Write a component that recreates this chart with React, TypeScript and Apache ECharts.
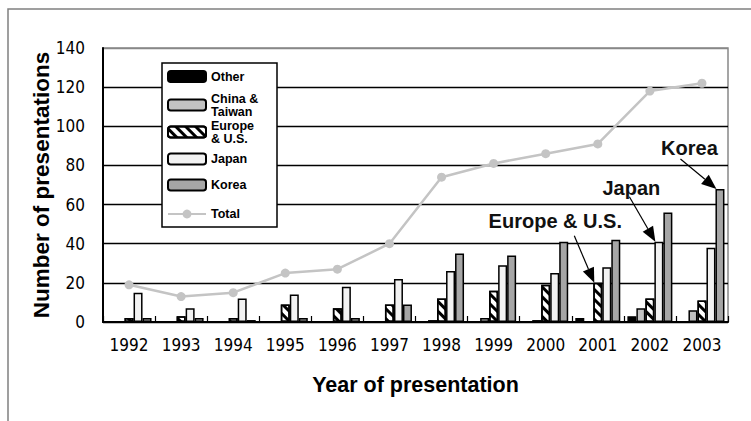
import React, { useEffect, useRef } from 'react';
import * as echarts from 'echarts';

// Presentations per year, by region of origin
const years = ['1992', '1993', '1994', '1995', '1996', '1997', '1998', '1999', '2000', '2001', '2002', '2003'];
const other = [0, 0, 0, 0, 0, 0, 0, 0, 0, 2, 3, 0];
const chinaTaiwan = [0, 0, 0, 0, 0, 0, 1, 2, 1, 0, 7, 6];
const europeUS = [2, 3, 2, 9, 7, 9, 12, 16, 19, 20, 12, 11];
const japan = [15, 7, 12, 14, 18, 22, 26, 29, 25, 28, 41, 38];
const korea = [2, 2, 1, 2, 2, 9, 35, 34, 41, 42, 56, 68];
const total = [19, 13, 15, 25, 27, 40, 74, 81, 86, 91, 118, 122];
const yTicks = [0, 20, 40, 60, 80, 100, 120, 140];

const NARROW = '"Liberation Sans Narrow", "DejaVu Sans Condensed", "Liberation Sans", sans-serif';
const SANS = '"Liberation Sans", Arial, Helvetica, sans-serif';
const BAR_W = 9;

const hatch = {
  symbol: 'rect',
  symbolSize: 1,
  color: '#000',
  dashArrayX: [1, 0],
  dashArrayY: [3, 3.5],
  rotation: Math.PI / 4,
};

const barSeries = (name: string, data: number[], color: string, extra: any = {}) => ({
  name,
  type: 'bar',
  data,
  barWidth: BAR_W,
  barGap: '0%',
  itemStyle: { color, borderColor: '#000', borderWidth: 1.5, ...extra },
  emphasis: { disabled: true },
  z: 2,
});

const legendTops: [string, number][] = [
  ['Other', 70],
  ['China & Taiwan', 92],
  ['Europe & U.S.', 119],
  ['Japan', 152.5],
  ['Korea', 178.5],
  ['Total', 207.5],
];

const legendLabel = (name: string) =>
  name === 'China & Taiwan' ? 'China &\nTaiwan' : name === 'Europe & U.S.' ? 'Europe\n& U.S.' : name;

// annotation callouts: [label, series index, category index, text offset, arrow start offset]
const callouts: [string, number, number, [number, number], [number, number]][] = [
  ['Europe & U.S.', 2, 9, [-39, -62], [-20, -47]],
  ['Japan', 3, 10, [-24, -54], [-26, -45]],
  ['Korea', 4, 11, [-27, -41], [-36, -30]],
];

export default function App() {
  const ref = useRef<HTMLDivElement>(null);

  useEffect(() => {
    document.body.style.margin = '0';
    const chart = echarts.init(ref.current!, null, { renderer: 'svg' });

    const option: any = {
      animation: false,
      backgroundColor: '#fff',
      grid: {
        left: 103,
        top: 48,
        right: 23,
        bottom: 99,
        show: true,
        borderColor: '#888',
        borderWidth: 1.5,
      },
      legend: legendTops.map(([name, top]) => ({
        data: [name],
        left: 167,
        top,
        orient: 'vertical',
        padding: 0,
        itemWidth: 38,
        itemHeight: 11,
        selectedMode: false,
        formatter: legendLabel,
        textStyle: { fontFamily: SANS, fontWeight: 'bold', fontSize: 12.5, lineHeight: 13, color: '#000' },
        z: 6,
      })),
      xAxis: {
        type: 'category',
        data: years,
        boundaryGap: true,
        axisLine: { lineStyle: { color: '#000', width: 2 } },
        axisTick: { show: true, inside: true, length: 6, lineStyle: { color: '#000', width: 1.2 } },
        axisLabel: { fontFamily: NARROW, fontSize: 17, color: '#000', margin: 14 },
        name: 'Year of presentation',
        nameLocation: 'middle',
        nameGap: 52,
        nameMoveOverlap: false,
        nameTextStyle: { fontFamily: SANS, fontWeight: 'bold', fontSize: 21.5, color: '#000' },
      },
      yAxis: {
        type: 'value',
        min: 0,
        max: 140,
        interval: 20,
        axisLine: { show: true, lineStyle: { color: '#000', width: 2 } },
        axisTick: { show: false },
        axisLabel: {
          fontFamily: NARROW,
          fontSize: 17,
          color: '#000',
          margin: 18,
          formatter: (v: number) => (yTicks.includes(v) ? String(v) : ''),
        },
        splitLine: {
          show: true,
          lineStyle: { color: ['#000', '#000', '#000', '#000', '#000', '#000', '#000', '#888'], width: 1.3 },
        },
        name: 'Number of presentations',
        nameLocation: 'middle',
        nameRotate: 90,
        nameGap: 50,
        nameMoveOverlap: false,
        nameTextStyle: { fontFamily: SANS, fontWeight: 'bold', fontSize: 22.5, color: '#000' },
      },
      series: [
        barSeries('Other', other, '#000'),
        barSeries('China & Taiwan', chinaTaiwan, '#c2c2c2'),
        barSeries('Europe & U.S.', europeUS, '#fff', { decal: hatch }),
        barSeries('Japan', japan, '#f2f2f2'),
        barSeries('Korea', korea, '#a6a6a6'),
        {
          name: 'Total',
          type: 'line',
          data: total,
          symbol: 'circle',
          symbolSize: 9,
          lineStyle: { color: '#c4c4c4', width: 2.5 },
          itemStyle: { color: '#c4c4c4' },
          emphasis: { disabled: true },
          z: 4,
        },
      ],
    };
    chart.setOption(option);

    const graphics: any[] = [
      {
        type: 'rect',
        shape: { x: 8, y: 9, width: 800, height: 440 },
        style: { fill: 'none', stroke: '#808080', lineWidth: 1.5 },
        silent: true,
        z: 10,
      },
      {
        type: 'rect',
        shape: { x: 162, y: 63, width: 115, height: 164 },
        style: { fill: '#fff', stroke: '#000', lineWidth: 1.5 },
        silent: true,
        z: 5,
      },
    ];

    callouts.forEach(([label, sIdx, cIdx, tOff, sOff]) => {
      const seriesData = [other, chinaTaiwan, europeUS, japan, korea][sIdx];
      const p = chart.convertToPixel({ xAxisIndex: 0, yAxisIndex: 0 }, [cIdx, seriesData[cIdx]]) as number[];
      const tx = p[0] + (sIdx - 2) * BAR_W - BAR_W / 2 + 1;
      const ty = p[1];
      const sx = tx + sOff[0];
      const sy = ty + sOff[1];
      const dx = tx - sx;
      const dy = ty - sy;
      const len = Math.hypot(dx, dy);
      const ux = dx / len;
      const uy = dy / len;
      const L = 15;
      const W = 6;
      const bx = tx - ux * L;
      const by = ty - uy * L;
      graphics.push(
        {
          type: 'line',
          shape: { x1: sx, y1: sy, x2: bx, y2: by },
          style: { stroke: '#000', lineWidth: 1.2 },
          silent: true,
          z: 8,
        },
        {
          type: 'polygon',
          shape: {
            points: [
              [tx, ty],
              [bx - uy * W, by + ux * W],
              [bx + uy * W, by - ux * W],
            ],
          },
          style: { fill: '#000' },
          silent: true,
          z: 8,
        },
        {
          type: 'text',
          x: tx + tOff[0],
          y: ty + tOff[1],
          style: {
            text: label,
            font: `bold 20px ${SANS}`,
            fill: '#111',
            align: 'center',
            verticalAlign: 'middle',
          },
          silent: true,
          z: 8,
        }
      );
    });

    chart.setOption({ graphic: graphics });
    return () => chart.dispose();
  }, []);

  return <div ref={ref} style={{ width: 751, height: 421 }} />;
}
